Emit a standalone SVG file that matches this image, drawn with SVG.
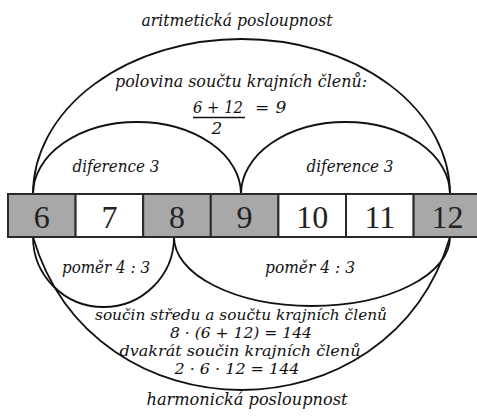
<svg xmlns="http://www.w3.org/2000/svg" width="477" height="420" viewBox="0 0 477 420">
<style>
.cell{stroke:#2a2a2a;stroke-width:2}
.g{fill:#a8a8a8}
.w{fill:#ffffff}
.num{font-family:"Liberation Serif","DejaVu Serif",serif;font-size:32px;fill:#222;text-anchor:middle}
.lbl{font-family:"DejaVu Serif","Liberation Serif",serif;font-style:italic;font-size:17px;fill:#111;text-anchor:middle}
.sm{font-size:15px}
.arc{fill:none;stroke:#111;stroke-width:1.8}
</style>
<rect width="477" height="420" fill="#fff"/>
<g id="connectors">
<path class="arc" d="M33,194 A208.5,155 0 0 1 450,194"/>
<path class="arc" d="M33,194 A104,72 0 0 1 241,194"/>
<path class="arc" d="M241,194 A104.5,72 0 0 1 450,194"/>
<path class="arc" d="M33,237 A70.5,70 0 0 0 174,237"/>
<path class="arc" d="M174,237 A138,69 0 0 0 450,237"/>
<path class="arc" d="M33,237 C93,441 390,441 450,237"/>
</g>
<g id="n6"><rect class="cell g" x="8" y="194" width="67.6" height="43"/><text class="num" x="41.8" y="228">6</text></g>
<g id="n7"><rect class="cell w" x="75.6" y="194" width="67.6" height="43"/><text class="num" x="109.4" y="228">7</text></g>
<g id="n8"><rect class="cell g" x="143.2" y="194" width="67.6" height="43"/><text class="num" x="177" y="228">8</text></g>
<g id="n9"><rect class="cell g" x="210.8" y="194" width="67.6" height="43"/><text class="num" x="244.6" y="228">9</text></g>
<g id="n10"><rect class="cell w" x="278.4" y="194" width="67.6" height="43"/><text class="num" x="312.2" y="228">10</text></g>
<g id="n11"><rect class="cell w" x="346" y="194" width="67.6" height="43"/><text class="num" x="379.8" y="228">11</text></g>
<g id="n12"><rect class="cell g" x="413.6" y="194" width="67.6" height="43"/><text class="num" x="447.4" y="228">12</text></g>
<g id="arithmetic"><text class="lbl" x="237" y="26" textLength="191" lengthAdjust="spacingAndGlyphs">aritmetická posloupnost</text></g>
<g id="half-sum">
<text class="lbl" x="241" y="87" textLength="252" lengthAdjust="spacingAndGlyphs">polovina součtu krajních členů:</text>
<text class="lbl" x="218" y="113" textLength="50" lengthAdjust="spacingAndGlyphs">6 + 12</text>
<line x1="193" y1="117.5" x2="245" y2="117.5" stroke="#111" stroke-width="1.5"/>
<text class="lbl" x="217" y="134">2</text>
<text class="lbl" x="262" y="113" style="font-style:normal">=</text>
<text class="lbl" x="281" y="113">9</text>
</g>
<g id="diff-left"><text class="lbl" x="116" y="172" textLength="87" lengthAdjust="spacingAndGlyphs">diference 3</text></g>
<g id="diff-right"><text class="lbl" x="350" y="172" textLength="87" lengthAdjust="spacingAndGlyphs">diference 3</text></g>
<g id="ratio-left"><text class="lbl" x="106" y="273" textLength="88" lengthAdjust="spacingAndGlyphs">poměr 4 : 3</text></g>
<g id="ratio-right"><text class="lbl" x="310" y="273" textLength="90" lengthAdjust="spacingAndGlyphs">poměr 4 : 3</text></g>
<g id="products">
<text class="lbl sm" x="241" y="320" textLength="292" lengthAdjust="spacingAndGlyphs">součin středu a součtu krajních členů</text>
<text class="lbl sm" x="241" y="338" textLength="142" lengthAdjust="spacingAndGlyphs">8 · (6 + 12) = 144</text>
<text class="lbl sm" x="240" y="355.5" textLength="241" lengthAdjust="spacingAndGlyphs">dvakrát součin krajních členů</text>
<text class="lbl sm" x="237" y="374" textLength="125" lengthAdjust="spacingAndGlyphs">2 · 6 · 12 = 144</text>
</g>
<g id="harmonic"><text class="lbl" x="247" y="405" textLength="201" lengthAdjust="spacingAndGlyphs">harmonická posloupnost</text></g>
</svg>
